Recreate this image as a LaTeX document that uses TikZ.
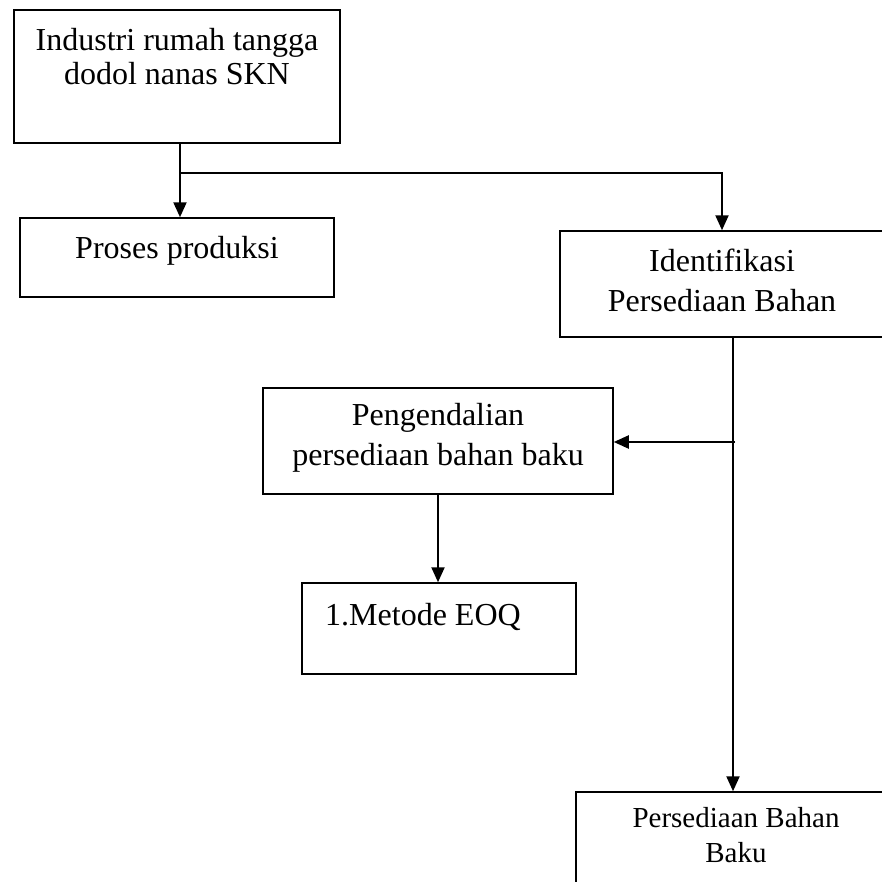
\documentclass[tikz,border=0pt]{standalone}
\usepackage{fontspec}
\setmainfont{Liberation Serif}
\usetikzlibrary{arrows.meta,positioning}

\begin{document}
\begin{tikzpicture}[x=1pt,y=-1pt,
      box/.style={draw,line width=1.5pt,inner sep=0pt},
      txt/.style={align=center,inner sep=0pt,font=\fontsize{32}{40}\selectfont},
      arr/.style={line width=2.2pt,-{Triangle[length=15pt,width=13pt]}}]
      \clip (0,0) rectangle (882,881);
      \node[box,minimum width=326,minimum height=133] (ind) at (177,76.5) {};
      \node[box,minimum width=314,minimum height=79] (prs) at (177,257.5) {};
      \node[box,minimum width=324,minimum height=106] (idf) at (722,284) {};
      \node[box,minimum width=350,minimum height=106] (peng) at (438,441) {};
      \node[box,minimum width=274,minimum height=91] (eoq) at (439,628.5) {};
      \node[box,minimum width=322,minimum height=108] (stk) at (737,846) {};
      \node[txt,font=\fontsize{32}{34}\selectfont] (indT) at (177,57) {Industri rumah tangga\\dodol nanas SKN};
      \node[txt] (prsT) at (177,250.5) {Proses produksi};
      \node[txt] (idfT) at (722,280) {Identifikasi\\Persediaan Bahan};
      \node[txt] (pengT) at (438,437.5) {Pengendalian\\persediaan bahan baku};
      \node[txt,anchor=west] (eoqT) at (325,616.5) {1.Metode EOQ};
      \node[txt,font=\fontsize{29}{35}\selectfont] (stkT) at (736,835.5) {Persediaan Bahan\\Baku};
      \coordinate (fork) at (180,173);
      \coordinate (trunk) at (733,442);
      \draw[arr] (fork |- ind.south) -- (fork |- prs.north);
      \draw[arr] (fork) -| (idf.north);
      \draw[arr] (trunk |- idf.south) -- (trunk |- stk.north);
      \draw[arr] ([xshift=2pt]trunk) -- (trunk -| peng.east);
      \draw[arr] (peng.south) -- (peng.south |- eoq.north);
    \end{tikzpicture}
\end{document}
